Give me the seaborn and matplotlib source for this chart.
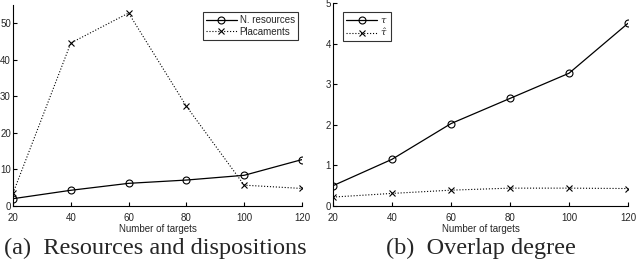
import numpy as np
import pandas as pd
import matplotlib
matplotlib.use('Agg')
import matplotlib.pyplot as plt
import seaborn as sns

# values
targets = [20, 40, 60, 80, 100, 120]
n_resources = [2.0, 4.3, 6.2, 7.1, 8.4, 12.7]
placements = [3.5, 44.6, 52.8, 27.3, 5.7, 4.8]
tau = [0.50, 1.15, 2.03, 2.65, 3.27, 4.50]
tau_hat = [0.22, 0.31, 0.39, 0.44, 0.44, 0.43]

sns.set_style('white')
plt.rcParams['font.family'] = ['Liberation Sans', 'DejaVu Sans']
plt.rcParams['mathtext.fontset'] = 'dejavuserif'

fig = plt.figure(figsize=(6.38, 2.64), dpi=100)
ax1 = fig.add_axes([13/638, 1-206/264, 289/638, 201/264])
ax2 = fig.add_axes([333/638, 1-206/264, 295/638, 203/264])

df1 = pd.DataFrame({'x': targets, 'res': n_resources, 'pl': placements})
df2 = pd.DataFrame({'x': targets, 'tau': tau, 'tauh': tau_hat})

line_solid = dict(color='black', lw=0.9, marker='o', markersize=5,
                  markerfacecolor='none', markeredgecolor='black', markeredgewidth=0.8)
line_dot = dict(color='black', lw=0.8, ls=':', marker='x', markersize=5,
                markeredgecolor='black', markeredgewidth=0.8)

sns.lineplot(data=df1, x='x', y='res', ax=ax1, label='N. resources', **line_solid)
sns.lineplot(data=df1, x='x', y='pl', ax=ax1, label='Placaments', **line_dot)
sns.lineplot(data=df2, x='x', y='tau', ax=ax2, label=r'$\tau$', **line_solid)
sns.lineplot(data=df2, x='x', y='tauh', ax=ax2, label=r'$\hat{\tau}$', **line_dot)

ax1.set_ylim(0, 55)
ax1.set_yticks([0, 10, 20, 30, 40, 50])
ax2.set_ylim(0, 5)
ax2.set_yticks([0, 1, 2, 3, 4, 5])

for ax in (ax1, ax2):
    ax.set_xlim(20, 120)
    ax.set_xticks(targets)
    ax.set_xlabel('Number of targets', fontsize=7, labelpad=1)
    ax.set_ylabel('')
    ax.tick_params(direction='in', length=3, width=0.8, labelsize=7,
                   bottom=True, left=True, color='black')
    ax.tick_params(axis='x', pad=5)
    ax.tick_params(axis='y', pad=1.5)
    for s in ('top', 'right'):
        ax.spines[s].set_visible(False)
    for s in ('left', 'bottom'):
        ax.spines[s].set_color('black')
        ax.spines[s].set_linewidth(0.8)

leg1 = ax1.legend(loc='upper right', bbox_to_anchor=(0.985, 0.965), fontsize=7,
                  frameon=True, fancybox=False, edgecolor='black', handlelength=3.2,
                  borderpad=0.3, labelspacing=0.2, handletextpad=0.3, borderaxespad=0)
leg1.get_frame().set_linewidth(0.8)
leg2 = ax2.legend(loc='upper left', bbox_to_anchor=(0.035, 0.955), fontsize=7,
                  frameon=True, fancybox=False, edgecolor='black', handlelength=3.2,
                  borderpad=0.3, labelspacing=0.2, handletextpad=0.3, borderaxespad=0)
leg2.get_frame().set_linewidth(0.8)

fig.text(155/638, 1-248/264, '(a)  Resources and dispositions', ha='center', va='center',
         fontsize=17.5, family='Liberation Serif')
fig.text(481/638, 1-248/264, '(b)  Overlap degree', ha='center', va='center',
         fontsize=17.5, family='Liberation Serif')

fig.savefig('out.png', dpi=100)
